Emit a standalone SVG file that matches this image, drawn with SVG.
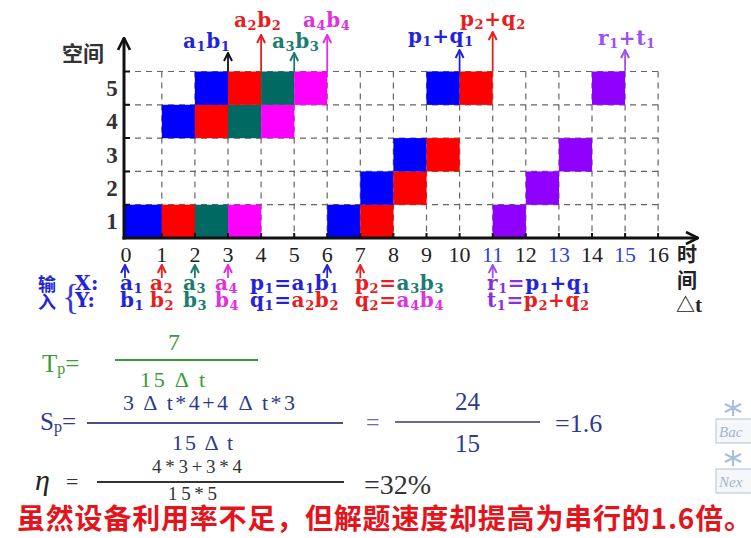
<svg xmlns="http://www.w3.org/2000/svg" width="751" height="538" viewBox="0 0 751 538">
<defs>
<style>
.grid{stroke:#666;stroke-width:1.2;stroke-dasharray:6 5;fill:none}
.axis{stroke:#111;stroke-width:3;fill:none}
.tick{stroke:#111;stroke-width:2}
.arr{stroke-width:1.8;fill:none}
.lbl{font-family:"DejaVu Serif","Liberation Serif",serif;font-weight:bold;font-size:20px;letter-spacing:0.6px}
.sub{font-size:13px}
.num{font-family:"Liberation Serif",serif;font-size:22px;fill:#222;text-anchor:middle}
.row{font-family:"Liberation Serif",serif;font-weight:bold;font-size:23px;fill:#333;text-anchor:middle}
.cjk{font-family:"Noto Sans CJK SC",sans-serif;font-weight:bold}
.f{font-family:"Liberation Serif","Times New Roman",serif}
.cb{fill:#0000ff}.cr{fill:#ff0000}.ct{fill:#006a62}.cm{fill:#ff00ff}.cp{fill:#8f00ff}
.tb{fill:#2323d8}.tr{fill:#e62020}.tt{fill:#1a7d70}.tm{fill:#e030e0}.tp{fill:#8a30e0}.tpl{fill:#a050f0}
.green{fill:#3a9a3a}.navy{fill:#2e3a8a}.dark{fill:#333}
</style>
<marker id="mk" viewBox="0 0 10 10" refX="9" refY="5" markerWidth="10" markerHeight="10" markerUnits="userSpaceOnUse" orient="auto"><path d="M1,1 L9,5 L1,9" fill="none" stroke="#111" stroke-width="2"/></marker>
<marker id="mr" viewBox="0 0 10 10" refX="9" refY="5" markerWidth="10" markerHeight="10" markerUnits="userSpaceOnUse" orient="auto"><path d="M1,1 L9,5 L1,9" fill="none" stroke="#e62020" stroke-width="2"/></marker>
<marker id="mt" viewBox="0 0 10 10" refX="9" refY="5" markerWidth="10" markerHeight="10" markerUnits="userSpaceOnUse" orient="auto"><path d="M1,1 L9,5 L1,9" fill="none" stroke="#1a7d70" stroke-width="2"/></marker>
<marker id="mm" viewBox="0 0 10 10" refX="9" refY="5" markerWidth="10" markerHeight="10" markerUnits="userSpaceOnUse" orient="auto"><path d="M1,1 L9,5 L1,9" fill="none" stroke="#e030e0" stroke-width="2"/></marker>
<marker id="mb" viewBox="0 0 10 10" refX="9" refY="5" markerWidth="10" markerHeight="10" markerUnits="userSpaceOnUse" orient="auto"><path d="M1,1 L9,5 L1,9" fill="none" stroke="#2323d8" stroke-width="2"/></marker>
<marker id="mp" viewBox="0 0 10 10" refX="9" refY="5" markerWidth="10" markerHeight="10" markerUnits="userSpaceOnUse" orient="auto"><path d="M1,1 L9,5 L1,9" fill="none" stroke="#a050f0" stroke-width="2"/></marker>
<marker id="max" viewBox="0 0 14 14" refX="13" refY="7" markerWidth="14" markerHeight="14" markerUnits="userSpaceOnUse" orient="auto"><path d="M1,1 L13,7 L1,13" fill="none" stroke="#111" stroke-width="2.6"/></marker>
</defs>
<rect width="751" height="538" fill="#ffffff"/>

<g id="grid">
<path class="grid" d="M124,71.5H658.1M124,104.8H658.1M124,138.1H658.1M124,171.4H658.1M124,204.7H658.1"/>
<path class="grid" d="M161.8,71.5V238M194.9,71.5V238M228,71.5V238M261.1,71.5V238M294.2,71.5V238M327.2,71.5V238M360.3,71.5V238M393.4,71.5V238M426.5,71.5V238M459.6,71.5V238M492.7,71.5V238M525.8,71.5V238M558.9,71.5V238M592,71.5V238M625.1,71.5V238M658.1,71.5V238"/>
</g>

<g id="cells">
<g id="row1">
<rect class="cb" x="124" y="204.7" width="37.9" height="33.4"/>
<rect class="cr" x="161.8" y="204.7" width="33.2" height="33.4"/>
<rect class="ct" x="194.9" y="204.7" width="33.2" height="33.4"/>
<rect class="cm" x="228" y="204.7" width="33.2" height="33.4"/>
<rect class="cb" x="327.2" y="204.7" width="33.2" height="33.4"/>
<rect class="cr" x="360.3" y="204.7" width="33.2" height="33.4"/>
<rect class="cp" x="492.7" y="204.7" width="33.2" height="33.4"/>
</g>
<g id="row2">
<rect class="cb" x="360.3" y="171.4" width="33.2" height="33.4"/>
<rect class="cr" x="393.4" y="171.4" width="33.2" height="33.4"/>
<rect class="cp" x="525.8" y="171.4" width="33.2" height="33.4"/>
</g>
<g id="row3">
<rect class="cb" x="393.4" y="138.1" width="33.2" height="33.4"/>
<rect class="cr" x="426.5" y="138.1" width="33.2" height="33.4"/>
<rect class="cp" x="558.9" y="138.1" width="33.2" height="33.4"/>
</g>
<g id="row4">
<rect class="cb" x="161.8" y="104.8" width="33.2" height="33.4"/>
<rect class="cr" x="194.9" y="104.8" width="33.2" height="33.4"/>
<rect class="ct" x="228" y="104.8" width="33.2" height="33.4"/>
<rect class="cm" x="261.1" y="104.8" width="33.2" height="33.4"/>
</g>
<g id="row5">
<rect class="cb" x="194.9" y="71.5" width="33.2" height="33.4"/>
<rect class="cr" x="228" y="71.5" width="33.2" height="33.4"/>
<rect class="ct" x="261.1" y="71.5" width="33.2" height="33.4"/>
<rect class="cm" x="294.2" y="71.5" width="33" height="33.4"/>
<rect class="cb" x="426.5" y="71.5" width="33.2" height="33.4"/>
<rect class="cr" x="459.6" y="71.5" width="33.1" height="33.4"/>
<rect class="cp" x="592" y="71.5" width="33.1" height="33.4"/>
</g>
</g>

<g id="axes">
<line class="axis" x1="124" y1="239.5" x2="124" y2="38" marker-end="url(#max)"/>
<line class="axis" x1="122.5" y1="238" x2="698" y2="238" marker-end="url(#max)"/>
<path class="tick" d="M161.8,238V233M194.9,238V233M228,238V233M261.1,238V233M294.2,238V233M327.2,238V233M360.3,238V233M393.4,238V233M426.5,238V233M459.6,238V233M492.7,238V233M525.8,238V233M558.9,238V233M592,238V233M625.1,238V233M658.1,238V233"/>
<path class="tick" d="M124,71.5H130M124,104.8H130M124,138.1H130M124,171.4H130M124,204.7H130"/>
</g>

<g id="axis-labels">
<text class="cjk dark" x="62" y="61" font-size="21">空间</text>
<text class="row" x="112" y="96">5</text>
<text class="row" x="112" y="129">4</text>
<text class="row" x="112" y="163">3</text>
<text class="row" x="112" y="196">2</text>
<text class="row" x="112" y="229">1</text>
<text class="num" x="126" y="262">0</text>
<text class="num" x="161.8" y="262">1</text>
<text class="num" x="194.9" y="262">2</text>
<text class="num" x="228" y="262">3</text>
<text class="num" x="261.1" y="262">4</text>
<text class="num" x="294.2" y="262">5</text>
<text class="num" x="327.2" y="262">6</text>
<text class="num" x="360.3" y="262">7</text>
<text class="num" x="393.4" y="262">8</text>
<text class="num" x="426.5" y="262">9</text>
<text class="num" x="459.6" y="262">10</text>
<text class="num" x="492.7" y="262" style="fill:#3045d8">11</text>
<text class="num" x="525.8" y="262">12</text>
<text class="num" x="558.9" y="262" style="fill:#3045d8">13</text>
<text class="num" x="592" y="262">14</text>
<text class="num" x="625.1" y="262" style="fill:#3045d8">15</text>
<text class="num" x="658.1" y="262">16</text>
<text class="cjk" x="677" y="262" font-size="20" fill="#222">时</text>
<text class="cjk" x="677" y="288" font-size="20" fill="#222">间</text>
<text class="cjk" x="676" y="312" font-size="19" fill="#222">△<tspan class="f" font-size="21">t</tspan></text>
</g>

<g id="connectors">
<line class="arr" x1="228" y1="71.5" x2="228" y2="53" stroke="#111" marker-end="url(#mk)"/>
<line class="arr" x1="261.1" y1="71.5" x2="261.1" y2="35" stroke="#e62020" marker-end="url(#mr)"/>
<line class="arr" x1="294.2" y1="71.5" x2="294.2" y2="53" stroke="#1a7d70" marker-end="url(#mt)"/>
<line class="arr" x1="327.2" y1="71.5" x2="327.2" y2="35" stroke="#e030e0" marker-end="url(#mm)"/>
<line class="arr" x1="459.6" y1="71.5" x2="459.6" y2="50" stroke="#2323d8" marker-end="url(#mb)"/>
<line class="arr" x1="492.7" y1="71.5" x2="492.7" y2="32" stroke="#e62020" marker-end="url(#mr)"/>
<line class="arr" x1="625.1" y1="71.5" x2="625.1" y2="50" stroke="#a050f0" marker-end="url(#mp)"/>
<line class="arr" x1="125" y1="278" x2="125" y2="265" stroke="#2323d8" marker-end="url(#mb)"/>
<line class="arr" x1="161.8" y1="278" x2="161.8" y2="265" stroke="#e62020" marker-end="url(#mr)"/>
<line class="arr" x1="194.9" y1="278" x2="194.9" y2="265" stroke="#1a7d70" marker-end="url(#mt)"/>
<line class="arr" x1="228" y1="278" x2="228" y2="265" stroke="#e030e0" marker-end="url(#mm)"/>
<line class="arr" x1="327.2" y1="278" x2="327.2" y2="265" stroke="#2323d8" marker-end="url(#mb)"/>
<line class="arr" x1="360.3" y1="278" x2="360.3" y2="265" stroke="#e62020" marker-end="url(#mr)"/>
<line class="arr" x1="492.7" y1="278" x2="492.7" y2="265" stroke="#a050f0" marker-end="url(#mp)"/>
</g>

<g id="result-labels">
<text class="lbl tb" x="183" y="48">a<tspan class="sub" dy="3">1</tspan><tspan dy="-3">b</tspan><tspan class="sub" dy="3">1</tspan></text>
<text class="lbl tr" x="234" y="27">a<tspan class="sub" dy="3">2</tspan><tspan dy="-3">b</tspan><tspan class="sub" dy="3">2</tspan></text>
<text class="lbl tt" x="272" y="48">a<tspan class="sub" dy="3">3</tspan><tspan dy="-3">b</tspan><tspan class="sub" dy="3">3</tspan></text>
<text class="lbl tm" x="303" y="27">a<tspan class="sub" dy="3">4</tspan><tspan dy="-3">b</tspan><tspan class="sub" dy="3">4</tspan></text>
<text class="lbl tb" x="408" y="43">p<tspan class="sub" dy="3">1</tspan><tspan dy="-3">+q</tspan><tspan class="sub" dy="3">1</tspan></text>
<text class="lbl tr" x="460" y="26">p<tspan class="sub" dy="3">2</tspan><tspan dy="-3">+q</tspan><tspan class="sub" dy="3">2</tspan></text>
<text class="lbl tpl" x="598" y="45">r<tspan class="sub" dy="3">1</tspan><tspan dy="-3">+t</tspan><tspan class="sub" dy="3">1</tspan></text>
</g>

<g id="inputs">
<text class="cjk tb" x="38" y="291" font-size="18">输</text>
<text class="cjk tb" x="38" y="309" font-size="18">入</text>
<text class="f" x="62" y="309" font-size="36" fill="#3a3ad0">{</text>
<text class="lbl tb" x="75" y="290">X:</text>
<text class="lbl tb" x="75" y="307">Y:</text>
<text class="lbl tb" x="120" y="290">a<tspan class="sub" dy="3">1</tspan></text>
<text class="lbl tr" x="150" y="290">a<tspan class="sub" dy="3">2</tspan></text>
<text class="lbl tt" x="183" y="290">a<tspan class="sub" dy="3">3</tspan></text>
<text class="lbl tm" x="215" y="290">a<tspan class="sub" dy="3">4</tspan></text>
<text class="lbl tb" x="250" y="290">p<tspan class="sub" dy="3">1</tspan><tspan dy="-3">=a</tspan><tspan class="sub" dy="3">1</tspan><tspan dy="-3">b</tspan><tspan class="sub" dy="3">1</tspan></text>
<text class="lbl" x="355" y="290"><tspan class="tr">p</tspan><tspan class="sub tr" dy="3">2</tspan><tspan class="tr" dy="-3">=</tspan><tspan class="tt">a</tspan><tspan class="sub tt" dy="3">3</tspan><tspan class="tt" dy="-3">b</tspan><tspan class="sub tt" dy="3">3</tspan></text>
<text class="lbl" x="487" y="290"><tspan class="tp">r</tspan><tspan class="sub tp" dy="3">1</tspan><tspan class="tp" dy="-3">=</tspan><tspan class="tb">p</tspan><tspan class="sub tb" dy="3">1</tspan><tspan class="tb" dy="-3">+q</tspan><tspan class="sub tb" dy="3">1</tspan></text>
<text class="lbl tb" x="120" y="307">b<tspan class="sub" dy="3">1</tspan></text>
<text class="lbl tr" x="150" y="307">b<tspan class="sub" dy="3">2</tspan></text>
<text class="lbl tt" x="183" y="307">b<tspan class="sub" dy="3">3</tspan></text>
<text class="lbl tm" x="215" y="307">b<tspan class="sub" dy="3">4</tspan></text>
<text class="lbl" x="250" y="307"><tspan class="tb">q</tspan><tspan class="sub tb" dy="3">1</tspan><tspan class="tb" dy="-3">=</tspan><tspan class="tr">a</tspan><tspan class="sub tr" dy="3">2</tspan><tspan class="tr" dy="-3">b</tspan><tspan class="sub tr" dy="3">2</tspan></text>
<text class="lbl" x="355" y="307"><tspan class="tr">q</tspan><tspan class="sub tr" dy="3">2</tspan><tspan class="tr" dy="-3">=</tspan><tspan class="tm">a</tspan><tspan class="sub tm" dy="3">4</tspan><tspan class="tm" dy="-3">b</tspan><tspan class="sub tm" dy="3">4</tspan></text>
<text class="lbl" x="487" y="307"><tspan class="tp">t</tspan><tspan class="sub tp" dy="3">1</tspan><tspan class="tp" dy="-3">=</tspan><tspan class="tr">p</tspan><tspan class="sub tr" dy="3">2</tspan><tspan class="tr" dy="-3">+q</tspan><tspan class="sub tr" dy="3">2</tspan></text>
</g>

<g id="formula-tp">
<text class="f green" x="42" y="372" font-size="25">T<tspan font-size="16" dy="2">p</tspan><tspan dy="-2">=</tspan></text>
<text class="f green" x="168" y="350" font-size="24">7</text>
<line x1="115" y1="360" x2="258" y2="360" stroke="#3a9a3a" stroke-width="2"/>
<text class="f green" x="140" y="387" font-size="22" textLength="65" lengthAdjust="spacing">15 Δ t</text>
</g>

<g id="formula-sp">
<text class="f navy" x="40" y="430" font-size="25">S<tspan font-size="16" dy="2">p</tspan><tspan dy="-2">=</tspan></text>
<text class="f navy" x="123" y="410" font-size="22" textLength="172" lengthAdjust="spacing">3 Δ t*4+4 Δ t*3</text>
<line x1="87" y1="423" x2="343" y2="423" stroke="#4a4f86" stroke-width="2"/>
<text class="f navy" x="172" y="450" font-size="22" textLength="61" lengthAdjust="spacing">15 Δ t</text>
<text class="f" x="366" y="430" font-size="24" fill="#6a6ab0">=</text>
<text class="f navy" x="455" y="410" font-size="25">24</text>
<line x1="395" y1="422" x2="540" y2="422" stroke="#6a6aa0" stroke-width="2"/>
<text class="f navy" x="455" y="452" font-size="25">15</text>
<text class="f navy" x="555" y="432" font-size="26">=1.6</text>
</g>

<g id="formula-eta">
<text class="f" x="35" y="490" font-size="30" font-style="italic" fill="#222">η</text>
<text class="f" x="66" y="489" font-size="22" fill="#333">=</text>
<text class="f dark" x="152" y="473" font-size="19" textLength="90" lengthAdjust="spacing">4*3+3*4</text>
<line x1="97" y1="482" x2="344" y2="482" stroke="#333" stroke-width="2"/>
<text class="f dark" x="168" y="500" font-size="19" textLength="49" lengthAdjust="spacing">15*5</text>
<text class="f dark" x="364" y="494" font-size="28">=32%</text>
</g>

<g id="conclusion">
<text class="cjk" x="17" y="529" font-size="28" fill="#e3141b" letter-spacing="0.8">虽然设备利用率不足，但解题速度却提高为串行的1.6倍。</text>
</g>

<g id="nav-buttons" opacity="0.8">
<path d="M733,400V416M725,404L741,412M741,404L725,412" stroke="#8fb0d6" stroke-width="2"/>
<rect x="716" y="419" width="40" height="24" fill="#f3f6fa" stroke="#9db3cf"/>
<text class="f" x="719" y="437" font-size="15" font-style="italic" fill="#8aa3c4">Bac</text>
<path d="M733,450V466M725,454L741,462M741,454L725,462" stroke="#8fb0d6" stroke-width="2"/>
<rect x="716" y="469" width="40" height="24" fill="#f3f6fa" stroke="#9db3cf"/>
<text class="f" x="719" y="487" font-size="15" font-style="italic" fill="#8aa3c4">Nex</text>
</g>
</svg>
